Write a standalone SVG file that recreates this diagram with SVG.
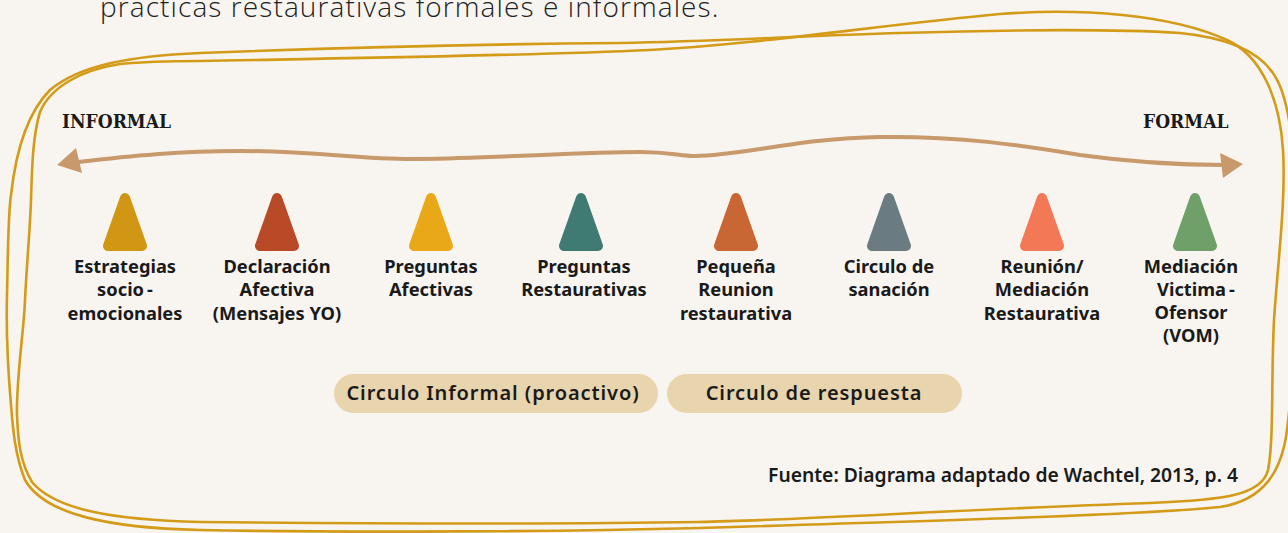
<svg xmlns="http://www.w3.org/2000/svg" width="1288" height="533" viewBox="0 0 1288 533">
<style>
.frame{fill:none;stroke:#d39b18;stroke-width:2.6;stroke-linecap:round}
.arrow{fill:none;stroke:#c8996b;stroke-width:4;stroke-linecap:round}
.head{fill:#c8996b}
.cone{stroke-width:10;stroke-linejoin:round}
.lbl{font-family:"Noto Sans",sans-serif;font-weight:700;font-size:18.3px;fill:#1a1a1a;text-anchor:middle}
.end{font-family:"DejaVu Serif Condensed","DejaVu Serif",serif;font-stretch:condensed;font-weight:700;font-size:19px;fill:#1a1a1a}
.pill{fill:#e8d5ae}
.ptxt{font-family:"Noto Sans",sans-serif;font-weight:600;font-size:20px;letter-spacing:0.9px;fill:#1a1a1a;text-anchor:middle}
.src{font-family:"Noto Sans",sans-serif;font-weight:600;font-size:19.3px;fill:#1a1a1a;text-anchor:end}
.top{font-family:"Open Sans",sans-serif;font-weight:300;font-size:28px;letter-spacing:1.1px;fill:#222}
</style>
<rect width="1288" height="533" fill="#f8f5f1"/>
<text class="top" x="100" y="17">practicas restaurativas formales e informales.</text>

<g id="frame">
<path class="frame" d="M200,53 C330,48 500,44 620,43 C720,41 800,36 900,33 C1000,30 1100,28 1180,33 C1230,38 1262,52 1276,78 C1292,105 1297,170 1297,250 C1297,330 1292,390 1287,430 C1282,470 1265,500 1220,507 C1150,514 1000,519 700,528 C500,533 300,532 200,530 C110,528 45,515 25,480 C15,455 13,430 11,405 C8,370 6,330 7,295 C8,250 8,215 11,195 C16,150 28,112 50,90 C80,65 130,56 200,53 Z"/>
<path class="frame" d="M200,61 C350,58 520,56 650,50 C760,44 880,25 1000,14 C1080,8 1170,14 1227,40 C1262,56 1280,100 1283,150 C1286,200 1278,260 1274,320 C1271,380 1274,440 1268,470 C1262,495 1225,500 1150,503 C950,510 800,520 700,522 C500,525 300,523 200,522 C115,520 55,510 32,482 C20,462 18,440 17,415 C16,380 24,330 25,300 C27,260 30,230 31,200 C32,165 33,135 40,112 C50,88 80,70 120,64 C150,61 180,61 200,61 Z"/>
</g>

<g id="connectors">
<path class="arrow" d="M78,162 C130,156 180,151 240,151 C320,151 360,160 420,159 C500,158 580,152 640,152 C670,152 680,156 695,156 C740,156 800,138 880,137 C960,136 1020,145 1080,155 C1130,162 1180,165 1226,165"/>
<polygon class="head" points="57,165 76,148 82,173"/>
<polygon class="head" points="1243,164 1220,153 1223,178"/>
</g>

<text id="informal" class="end" x="62" y="128">INFORMAL</text>
<text id="formal" class="end" x="1143" y="128">FORMAL</text>

<g id="n1">
<polygon class="cone" fill="#d09614" stroke="#d09614" points="125,198 108,246 142,246"/>
<text class="lbl" x="125" y="273">Estrategias</text>
<text class="lbl" x="125" y="296"><tspan>socio</tspan><tspan dx="3">-</tspan></text>
<text class="lbl" x="125" y="320">emocionales</text>
</g>
<g id="n2">
<polygon class="cone" fill="#b94a27" stroke="#b94a27" points="277,198 260,246 294,246"/>
<text class="lbl" x="277" y="273">Declaración</text>
<text class="lbl" x="277" y="296">Afectiva</text>
<text class="lbl" x="277" y="320">(Mensajes YO)</text>
</g>
<g id="n3">
<polygon class="cone" fill="#e9a817" stroke="#e9a817" points="431,198 414,246 448,246"/>
<text class="lbl" x="431" y="273">Preguntas</text>
<text class="lbl" x="431" y="296">Afectivas</text>
</g>
<g id="n4">
<polygon class="cone" fill="#3f7a73" stroke="#3f7a73" points="581,198 564,246 598,246"/>
<text class="lbl" x="584" y="273">Preguntas</text>
<text class="lbl" x="584" y="296">Restaurativas</text>
</g>
<g id="n5">
<polygon class="cone" fill="#c96734" stroke="#c96734" points="736,198 719,246 753,246"/>
<text class="lbl" x="736" y="273">Pequeña</text>
<text class="lbl" x="736" y="296">Reunion</text>
<text class="lbl" x="736" y="320">restaurativa</text>
</g>
<g id="n6">
<polygon class="cone" fill="#6a7b82" stroke="#6a7b82" points="889,198 872,246 906,246"/>
<text class="lbl" x="889" y="273">Circulo de</text>
<text class="lbl" x="889" y="296">sanación</text>
</g>
<g id="n7">
<polygon class="cone" fill="#f27856" stroke="#f27856" points="1042,198 1025,246 1059,246"/>
<text class="lbl" x="1042" y="273">Reunión/</text>
<text class="lbl" x="1042" y="296">Mediación</text>
<text class="lbl" x="1042" y="320">Restaurativa</text>
</g>
<g id="n8">
<polygon class="cone" fill="#6fa06a" stroke="#6fa06a" points="1195,198 1178,246 1212,246"/>
<text class="lbl" x="1191" y="273">Mediación</text>
<text class="lbl" x="1196" y="296"><tspan>Victima</tspan><tspan dx="3">-</tspan></text>
<text class="lbl" x="1191" y="319">Ofensor</text>
<text class="lbl" x="1191" y="342">(VOM)</text>
</g>

<g id="pill1">
<rect class="pill" x="334" y="374" width="324" height="39" rx="19.5"/>
<text class="ptxt" x="493" y="400">Circulo Informal (proactivo)</text>
</g>
<g id="pill2">
<rect class="pill" x="667" y="374" width="295" height="39" rx="19.5"/>
<text class="ptxt" x="814" y="400">Circulo de respuesta</text>
</g>

<text id="source" class="src" x="1238" y="482">Fuente: Diagrama adaptado de Wachtel, 2013, p. 4</text>
</svg>
